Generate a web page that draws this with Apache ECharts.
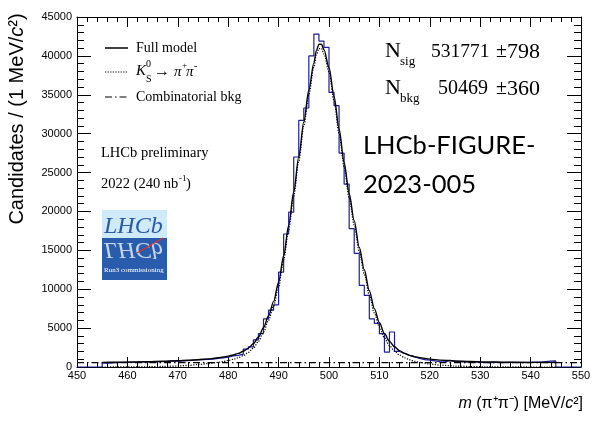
<!DOCTYPE html>
<html><head><meta charset="utf-8">
<script src="https://cdn.jsdelivr.net/npm/echarts@6/dist/echarts.min.js"></script>
<style>html,body{margin:0;padding:0;background:#fff}#c{width:606px;height:422px}</style>
</head><body><div id="c"></div>
<script>
// ---- data ----
const binLow = 450;           // first bin low edge (MeV/c2), bin width 1 MeV
const histCounts = [
  0,0,0,0,0,
  480,520,560,590,600,
  610,620,650,640,680,
  700,690,720,760,740,
  800,830,870,900,950,
  980,1020,1100,1180,1250,
  1420,1500,1650,2300,2600,
  3500,4300,6200,7300,8000,
  12200,17100,19900,27000,31700,
  33300,40000,42800,41900,41100,
  35300,33600,27500,23500,17800,
  14600,10500,9200,6200,5600,
  4300,1900,4500,2000,1750,
  1500,1300,1100,950,880,
  780,680,650,860,700,
  660,640,620,650,600,
  580,560,600,580,560,
  600,580,560,550,600,
  640,620,700,760,780,
  0,0,0,0,0
];
const fitMass = [455,458,461,464,467,470,472,474,476,478,479,480,481,482,483,484,485,486,487,488,489,490,491,492,493,494,495,496,497,497.5,498,498.5,499,500,501,502,503,504,505,506,507,508,509,510,511,512,513,514,515,516,517,518,520,522,525,528,531,535,540,545];
const fitFull = [590,610,640,680,730,800,860,940,1040,1180,1280,1400,1550,1750,2030,2430,3000,3850,5050,6550,8400,10900,14300,18200,22500,27000,31500,35600,39100,40700,41500,41500,40800,38500,34800,30600,26300,22300,18800,15400,12500,9800,7500,5700,4300,3300,2600,2100,1750,1500,1330,1200,1010,890,780,710,660,620,595,580];
const fitSignal = [0,5,15,35,70,130,200,300,440,600,710,840,990,1190,1470,1870,2440,3290,4490,5990,7840,10340,13740,17640,21940,26440,30940,35040,38540,40140,40940,40940,40240,37940,34240,30040,25740,21740,18250,14850,11950,9250,6950,5150,3750,2750,2050,1550,1180,920,730,590,380,240,120,60,30,10,3,0];
const bkgMass = [450,550];
const bkgLevel = [560,560];

// ---- font detection ----
function hasFont(name){
  const c=document.createElement('canvas').getContext('2d');
  const s='45000 abcdefghijklm';
  c.font='20px monospace'; const a=c.measureText(s).width;
  c.font="20px '"+name+"', monospace"; const b=c.measureText(s).width;
  return Math.abs(a-b)>0.5;
}
const narrow = hasFont('Liberation Sans Narrow');
const axFont = narrow ? "'Liberation Sans Narrow'" : "'Liberation Sans'";
const axSize = narrow ? 13 : 11;
const serif = "'Liberation Serif', 'Times New Roman', serif";
const sans = "'Liberation Sans', Arial, sans-serif";

// ---- build series data ----
const histData = histCounts.map((v,i)=>[binLow+i, v]);
histData.push([binLow+histCounts.length, histCounts[histCounts.length-1]]);
const fullData = fitMass.map((m,i)=>[m, fitFull[i]]);
const sigData = fitMass.map((m,i)=>[m, fitSignal[i]]);
const bkgData = bkgMass.map((m,i)=>[m, bkgLevel[i]]);

const blk = '#000';
const plain = v => String(v);
function xAx(pos, show){
  return {type:'value', min:450, max:550, interval:10, position:pos,
    axisLine:{show:true, onZero:false, lineStyle:{color:blk,width:1}},
    axisTick:{show:true, inside:true, length:10, lineStyle:{color:blk,width:1}},
    minorTick:{show:true, splitNumber:5, length:5, lineStyle:{color:blk,width:1}},
    axisLabel:{show:show, color:blk, fontFamily:axFont, fontSize:axSize, margin:3, formatter:plain},
    splitLine:{show:false}, minorSplitLine:{show:false}};
}
function yAx(pos, show){
  return {type:'value', min:0, max:45000, interval:5000, position:pos,
    axisLine:{show:true, onZero:false, lineStyle:{color:blk,width:1}},
    axisTick:{show:true, inside:true, length:14, lineStyle:{color:blk,width:1}},
    minorTick:{show:true, splitNumber:5, length:7, lineStyle:{color:blk,width:1}},
    axisLabel:{show:show, color:blk, fontFamily:axFont, fontSize:axSize, margin:5, formatter:plain},
    splitLine:{show:false}, minorSplitLine:{show:false}};
}

function T(x,y,text,font,size,extra){
  return {type:'text', x:x, y:y, z:100, style:Object.assign({text:text, font:size+'px '+font, fill:'#000', align:'left', verticalAlign:'middle'}, extra||{})};
}
const graphics = [
  // legend
  {type:'line', z:100, shape:{x1:105,y1:48,x2:128,y2:48}, style:{stroke:'#000', lineWidth:1.5}},
  T(136,48,'Full model',serif,14),
  {type:'line', z:100, shape:{x1:105,y1:72,x2:128,y2:72}, style:{stroke:'#000', lineWidth:1.2, lineDash:[1.2,1.4]}},
  T(136,71,'K',serif,15,{font:'italic 15px '+serif}),
  T(146,64,'0',serif,10),
  T(146,79,'S',serif,10),
  T(154,72,'\u2192',serif,16),
  T(174,72,'\u03c0',serif,15,{font:'italic 15px '+serif}),
  T(182,66,'+',serif,9),
  T(186,72,'\u03c0',serif,15,{font:'italic 15px '+serif}),
  T(194,66,'-',serif,10),
  {type:'line', z:100, shape:{x1:105,y1:97,x2:128,y2:97}, style:{stroke:'#000', lineWidth:1.2, lineDash:[7,3,1.5,3]}},
  T(136,97,'Combinatorial bkg',serif,14),
  // stats
  T(385,51,'N',serif,22),
  T(400,62,'sig',serif,13),
  T(431,52,'531771',serif,19.5),
  T(496,52,'\u00b1',serif,20),
  T(507,52,'798',serif,22),
  T(385,88,'N',serif,22),
  T(400,99,'bkg',serif,13),
  T(438,89,'50469',serif,20),
  T(496,89,'\u00b1',serif,20),
  T(507,89,'360',serif,22),
  // LHCb preliminary
  T(101,153,'LHCb preliminary',serif,14.5),
  T(101,184,'2022 (240 nb',serif,14.5),
  T(179,179,'-1',serif,9),
  T(186,184,')',serif,14.5),
  // figure id
  T(363,146,'LHCb-FIGURE-',"Lato, 'Liberation Sans', sans-serif",25.5),
  T(363,185,'2023-005',"Lato, 'Liberation Sans', sans-serif",25.5),
  // logo
  {type:'rect', z:90, shape:{x:102,y:210,width:65,height:28}, style:{fill:'#cfeaf8'}},
  {type:'rect', z:90, shape:{x:102,y:238,width:65,height:42}, style:{fill:'#2a5cae'}},
  {type:'text', z:95, x:104, y:239, style:{text:'LHCb', font:'italic 24px '+serif, fill:'#2d59a8', align:'left', verticalAlign:'bottom'}},
  {type:'text', z:95, x:104, y:237, scaleY:-1, style:{text:'LHCb', font:'italic 24px '+serif, fill:'#d6e4f4', opacity:0.9, align:'left', verticalAlign:'bottom'}},
  {type:'line', z:96, shape:{x1:137,y1:253,x2:163,y2:238}, style:{stroke:'#e0302a', lineWidth:1.2}},
  {type:'text', z:96, x:104, y:270, style:{text:'Run3 commissioning', font:'7px '+serif, fill:'#fff', align:'left', verticalAlign:'middle'}},
  // axis titles
  {type:'text', z:100, x:583, y:404, style:{text:'{i|m} (\u03c0\u207a\u03c0\u207b) [MeV/{i|c}\u00b2]', font:'16px '+sans, fill:'#000', align:'right', verticalAlign:'middle', rich:{i:{fontStyle:'italic', fontSize:16, fontFamily:sans}}}},
  {type:'text', z:100, x:17, y:119, rotation:Math.PI/2, style:{text:'Candidates / (1 MeV/{i|c}\u00b2)', font:'20px '+sans, fill:'#000', align:'center', verticalAlign:'middle', rich:{i:{fontStyle:'italic', fontSize:20, fontFamily:sans}}}}
];

const chart = echarts.init(document.getElementById('c'), null, {renderer:'canvas'});
chart.setOption({
  animation:false,
  backgroundColor:'#fff',
  grid:{left:77, right:25, top:17, bottom:55, containLabel:false},
  xAxis:[xAx('bottom',true), xAx('top',false)],
  yAxis:[yAx('left',true), yAx('right',false)],
  series:[
    {name:'Data', type:'line', step:'end', data:histData, symbol:'none', z:2,
      lineStyle:{color:'#1e1e9a', width:1.2}},
    {name:'Combinatorial bkg', type:'line', data:bkgData, symbol:'none', z:3,
      lineStyle:{color:'#000', width:1.2, type:[7,3,1.5,3]}},
    {name:'K0S', type:'line', data:sigData, symbol:'none', smooth:0.3, smoothMonotone:'x', z:4,
      lineStyle:{color:'#000', width:1.2, type:[1.2,1.4]}},
    {name:'Full model', type:'line', data:fullData, symbol:'none', smooth:0.3, smoothMonotone:'x', z:5,
      lineStyle:{color:'#000', width:1.4}}
  ],
  graphic:graphics
});
</script>
</body></html>
